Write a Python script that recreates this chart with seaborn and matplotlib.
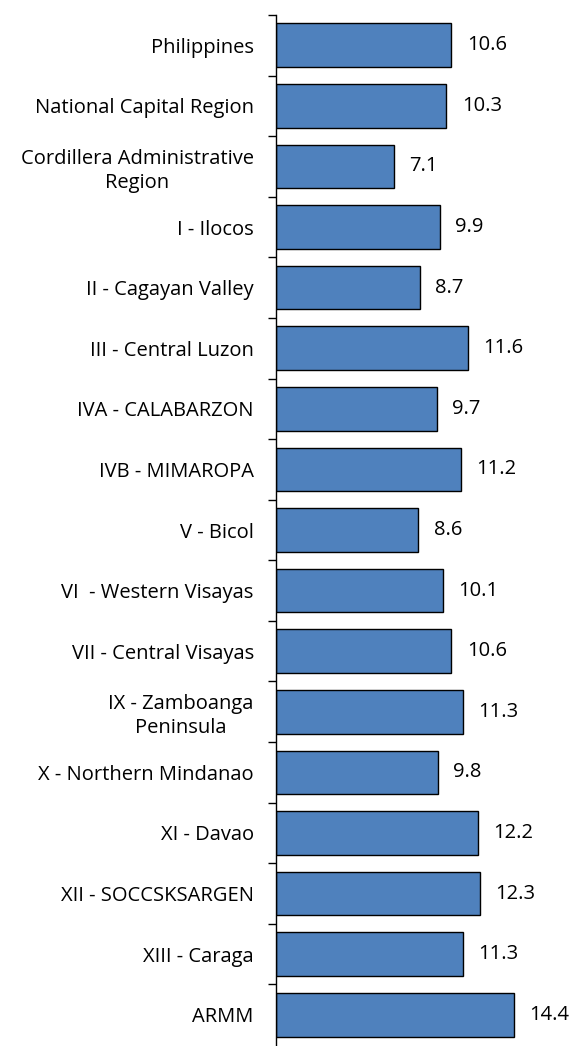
import matplotlib
matplotlib.use("Agg")
import matplotlib.pyplot as plt
import seaborn as sns
import pandas as pd
import numpy as np

categories = [
    "Philippines", "National Capital Region", "Cordillera Administrative\nRegion",
    "I - Ilocos", "II - Cagayan Valley", "III - Central Luzon", "IVA - CALABARZON",
    "IVB - MIMAROPA", "V - Bicol", "VI  - Western Visayas", "VII - Central Visayas",
    "IX - Zamboanga\nPeninsula", "X - Northern Mindanao", "XI - Davao",
    "XII - SOCCSKSARGEN", "XIII - Caraga", "ARMM",
]
values = [10.6, 10.3, 7.1, 9.9, 8.7, 11.6, 9.7, 11.2, 8.6, 10.1, 10.6, 11.3, 9.8, 12.2, 12.3, 11.3, 14.4]

sns.set_theme(style="white")
plt.rcParams['font.family'] = ['Open Sans', 'DejaVu Sans']

df = pd.DataFrame({"region": categories, "value": values})

fig = plt.figure(figsize=(5.73, 10.46), dpi=100)
ax = fig.add_axes([276/573, 1 - 1045/1046, (573 - 276)/573, (1045 - 15)/1046])

sns.barplot(data=df, y="region", x="value", orient="h", color="#4F81BD",
            saturation=1, edgecolor="black", linewidth=1.0, width=0.72, ax=ax)

ax.set_xlim(0, (573 - 276) / 16.55)
ax.set_ylim(len(categories) - 0.5, -0.5)
ax.set_xlabel("")
ax.set_ylabel("")
ax.set_xticks([])

for i, v in enumerate(values):
    ax.annotate(f"{v:.1f}", xy=(v, i), xytext=(11, 0), textcoords="offset points",
                va="center", ha="left", fontsize=14.5, color="black")

for s in ["top", "right", "bottom"]:
    ax.spines[s].set_visible(False)
ax.spines["left"].set_color("black")
ax.spines["left"].set_linewidth(1.0)

ax.set_yticks(range(len(categories)))
ax.set_yticklabels(categories, fontsize=14.5, multialignment="center", color="black",
                   linespacing=1.25)
ax.tick_params(axis="y", length=0, pad=16)
ax.set_yticks(np.arange(-0.5, len(categories) - 1.5 + 0.01, 1), minor=True)
ax.tick_params(axis="y", which="minor", length=6, width=1, color="black", left=True)

fig.savefig("out.png", dpi=100)
